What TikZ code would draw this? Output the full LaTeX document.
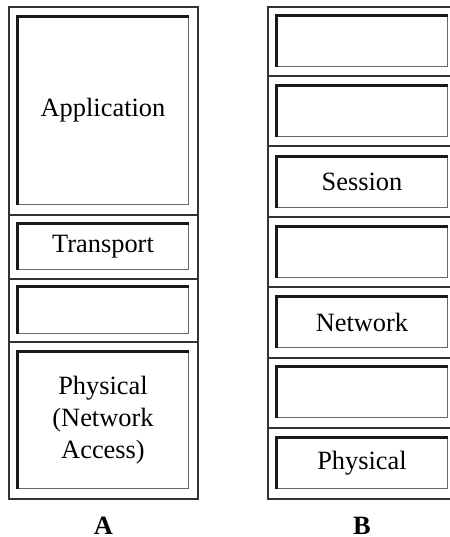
\documentclass[tikz,border=0pt]{standalone}
\usepackage{fontspec}
\setmainfont{Liberation Serif}
\usepackage{tikz}

\begin{document}
\begin{tikzpicture}[x=0.5pt,y=-0.5pt,
  frame/.style={draw=black!80,line width=0.6pt},
  sep/.style={draw=black!80,line width=0.7pt},
  layer/.style={draw=black!60,line width=0.5pt,rectangle,inner sep=0pt,
    minimum width=85pt,align=center,
    font=\fontsize{13.2}{16}\selectfont},
  lit/.style={line width=1.3pt,black!90},
  stackname/.style={inner sep=0pt,anchor=base,
    font=\fontsize{13.2}{16}\selectfont\bfseries}]
\useasboundingbox (0,0) rectangle (450,537);
\clip (0,0) rectangle (450,537);

% stack A
\draw[frame] (9,7) rectangle (198,499);
\foreach \y in {215,279,342} \draw[sep] (9,\y) -- (198,\y);
\node[layer,minimum height=93.5pt] (app) at (103,110.5) {Application};
\node[layer,minimum height=22.5pt] (trans) at (103,246.5) {Transport};
\node[layer,minimum height=23pt] (inet) at (103,310) {};
\node[layer,minimum height=68pt] (phys) at (103,420) {Physical\\(Network\\Access)};
\node[stackname] (la) at (103.5,534) {A};

% stack B
\draw[frame] (268,7) rectangle (456,499);
\foreach \y in {76,146,217,287,358,428} \draw[sep] (268,\y) -- (456,\y);
\node[layer,minimum height=25pt] (bapp) at (362,41) {};
\node[layer,minimum height=25pt] (bpres) at (362,111) {};
\node[layer,minimum height=25pt] (bsess) at (362,182) {Session};
\node[layer,minimum height=25pt] (btrans) at (362,252) {};
\node[layer,minimum height=25pt] (bnet) at (362,322) {Network};
\node[layer,minimum height=25pt] (blink) at (362,392) {};
\node[layer,minimum height=25pt] (bphys) at (362,463) {Physical};
\node[stackname] (lb) at (362,534) {B};

% heavier top and left edges
\foreach \n in {app,trans,inet,phys,bapp,bpres,bsess,btrans,bnet,blink,bphys}
  \draw[lit] (\n.south west) |- (\n.north east);
\end{tikzpicture}
\end{document}
